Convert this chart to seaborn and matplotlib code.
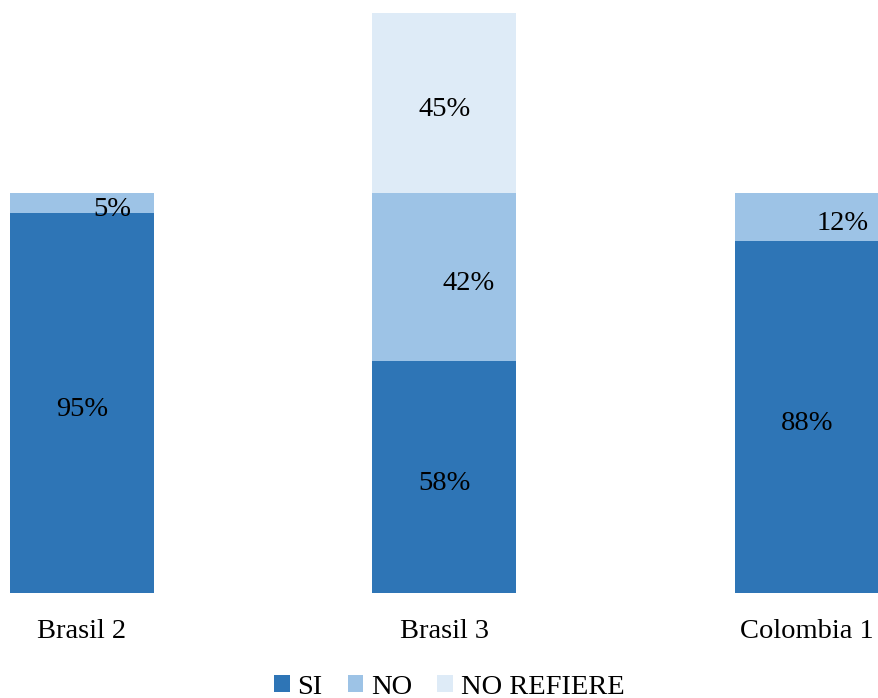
import pandas as pd
import numpy as np
import matplotlib.pyplot as plt
import seaborn as sns
from matplotlib.patches import Patch

# Datos
grupos = ['Brasil 2', 'Brasil 3', 'Colombia 1']
si = [95, 58, 88]
no = [5, 42, 12]
no_refiere = [0, 45, 0]
series = ['SI', 'NO', 'NO REFIERE']
colores = ['#2E75B6', '#9DC3E6', '#DEEBF7']

# desplazamiento horizontal (px) de las etiquetas de datos, tal como en el original
desp_no = [30, 24, 36]

df = pd.DataFrame({'Grupo': grupos, 'SI': si, 'NO': no, 'NO REFIERE': no_refiere})

sns.set_theme(style='white')
plt.rcParams['font.family'] = ['Liberation Serif', 'DejaVu Serif']
plt.rcParams['text.color'] = 'black'

fig = plt.figure(figsize=(8.79, 6.98), dpi=100)
ax = fig.add_axes([10 / 879, 105 / 698, 869 / 879, 580 / 698])

ancho = 144 / 362.5
base = np.zeros(len(grupos))
for serie, color in zip(series, colores):
    sns.barplot(data=df, x='Grupo', y=serie, color=color, width=ancho,
                bottom=base, ax=ax, saturation=1, linewidth=0, errorbar=None)
    base = base + df[serie].to_numpy()

fs = 20.5

# etiquetas de datos
base = np.zeros(len(grupos))
for serie in series:
    vals = df[serie].to_numpy()
    for i, v in enumerate(vals):
        if v <= 0:
            continue
        dx = desp_no[i] if serie == 'NO' else 0
        ax.annotate(f'{v}%', (i, base[i] + v / 2), xytext=(dx * 0.72, -5),
                    textcoords='offset points', ha='center', va='center',
                    fontsize=fs, color='black')
    base = base + vals

ax.set_xlim(-ancho / 2, 2 + ancho / 2)
ax.set_ylim(0, 145)
ax.set_xlabel('')
ax.set_ylabel('')
ax.set_yticks([])
ax.tick_params(axis='x', length=0, pad=18.5, labelsize=fs, labelcolor='black')
sns.despine(ax=ax, left=True, bottom=True)

handles = [Patch(facecolor=c, edgecolor='none', label=s) for s, c in zip(series, colores)]
fig.legend(handles=handles, loc='center', bbox_to_anchor=(449 / 879, 1 - 687 / 698),
           ncol=3, frameon=False, fontsize=fs, handlelength=0.55, handleheight=0.55,
           handletextpad=0.26, columnspacing=0.9, labelcolor='black')

fig.savefig('out.png', dpi=100)
plt.close(fig)
